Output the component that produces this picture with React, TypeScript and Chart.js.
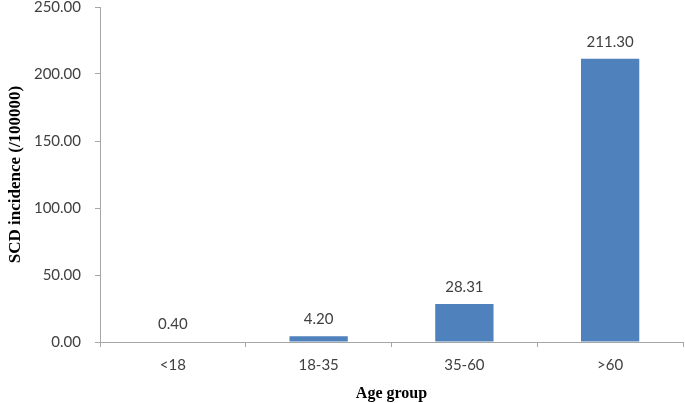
import React, { useEffect, useRef } from "react";
import { Chart, registerables } from "chart.js";

Chart.register(...registerables);

const categories = ["<18", "18-35", "35-60", ">60"];
const incidence = [0.4, 4.2, 28.31, 211.3];
const yTicks = [0, 50, 100, 150, 200, 250];

const valueLabels = {
  id: "valueLabels",
  afterDatasetsDraw(chart: any) {
    const ctx = chart.ctx;
    const meta = chart.getDatasetMeta(0);
    ctx.save();
    ctx.font = "15px Lato";
    ctx.fillStyle = "#404040";
    ctx.textAlign = "center";
    ctx.textBaseline = "middle";
    meta.data.forEach((el: any, i: number) => {
      ctx.fillText(incidence[i].toFixed(2), el.x, el.y - 17);
    });
    ctx.restore();
  },
};

export default function App() {
  const ref = useRef<HTMLCanvasElement>(null);
  useEffect(() => {
    if (!ref.current) return;
    const chart = new Chart(ref.current, {
      type: "bar",
      data: {
        labels: categories,
        datasets: [
          {
            data: incidence,
            backgroundColor: "#4F81BD",
            borderWidth: 0,
            categoryPercentage: 1,
            barPercentage: 0.4,
          },
        ],
      },
      options: {
        animation: false,
        responsive: false,
        layout: { padding: { top: 7, right: 2, left: 0, bottom: 0 } },
        plugins: { legend: { display: false }, tooltip: { enabled: false } },
        scales: {
          x: {
            grid: {
              drawOnChartArea: false,
              drawTicks: true,
              tickLength: 5,
              color: "#a6a6a6",
              offset: true,
            },
            border: { color: "#a6a6a6" },
            ticks: { color: "#404040", font: { family: "Lato", size: 15 }, padding: 9 },
            title: {
              display: true,
              text: "Age group",
              color: "#000",
              font: { family: "Liberation Serif", size: 16, weight: "bold" },
              padding: { top: 3, bottom: 0 },
            },
            afterFit: (s: any) => {
              s.height = 61;
              s.paddingLeft = 0;
              s.paddingRight = 0;
            },
          },
          y: {
            min: 0,
            max: 250,
            afterBuildTicks: (s: any) => {
              s.ticks = yTicks.map((v) => ({ value: v }));
            },
            grid: {
              drawOnChartArea: false,
              drawTicks: true,
              tickLength: 5,
              color: "#a6a6a6",
            },
            border: { color: "#a6a6a6" },
            ticks: {
              color: "#404040",
              font: { family: "Lato", size: 15 },
              padding: 14,
              callback: (v: any) => Number(v).toFixed(2),
            },
            title: {
              display: true,
              text: "SCD incidence (/100000)",
              color: "#000",
              font: { family: "Liberation Serif", size: 17, weight: "bold" },
              padding: { top: 5, bottom: 0 },
            },
            afterFit: (s: any) => {
              s.width = 100;
              s.paddingTop = 0;
              s.paddingBottom = 0;
            },
          },
        },
      },
      plugins: [valueLabels],
    });
    return () => chart.destroy();
  }, []);
  return (
    <div style={{ position: "fixed", left: 0, top: 0, width: 685, height: 403, background: "#fff" }}>
      <canvas ref={ref} width={685} height={403} style={{ display: "block" }} />
    </div>
  );
}
